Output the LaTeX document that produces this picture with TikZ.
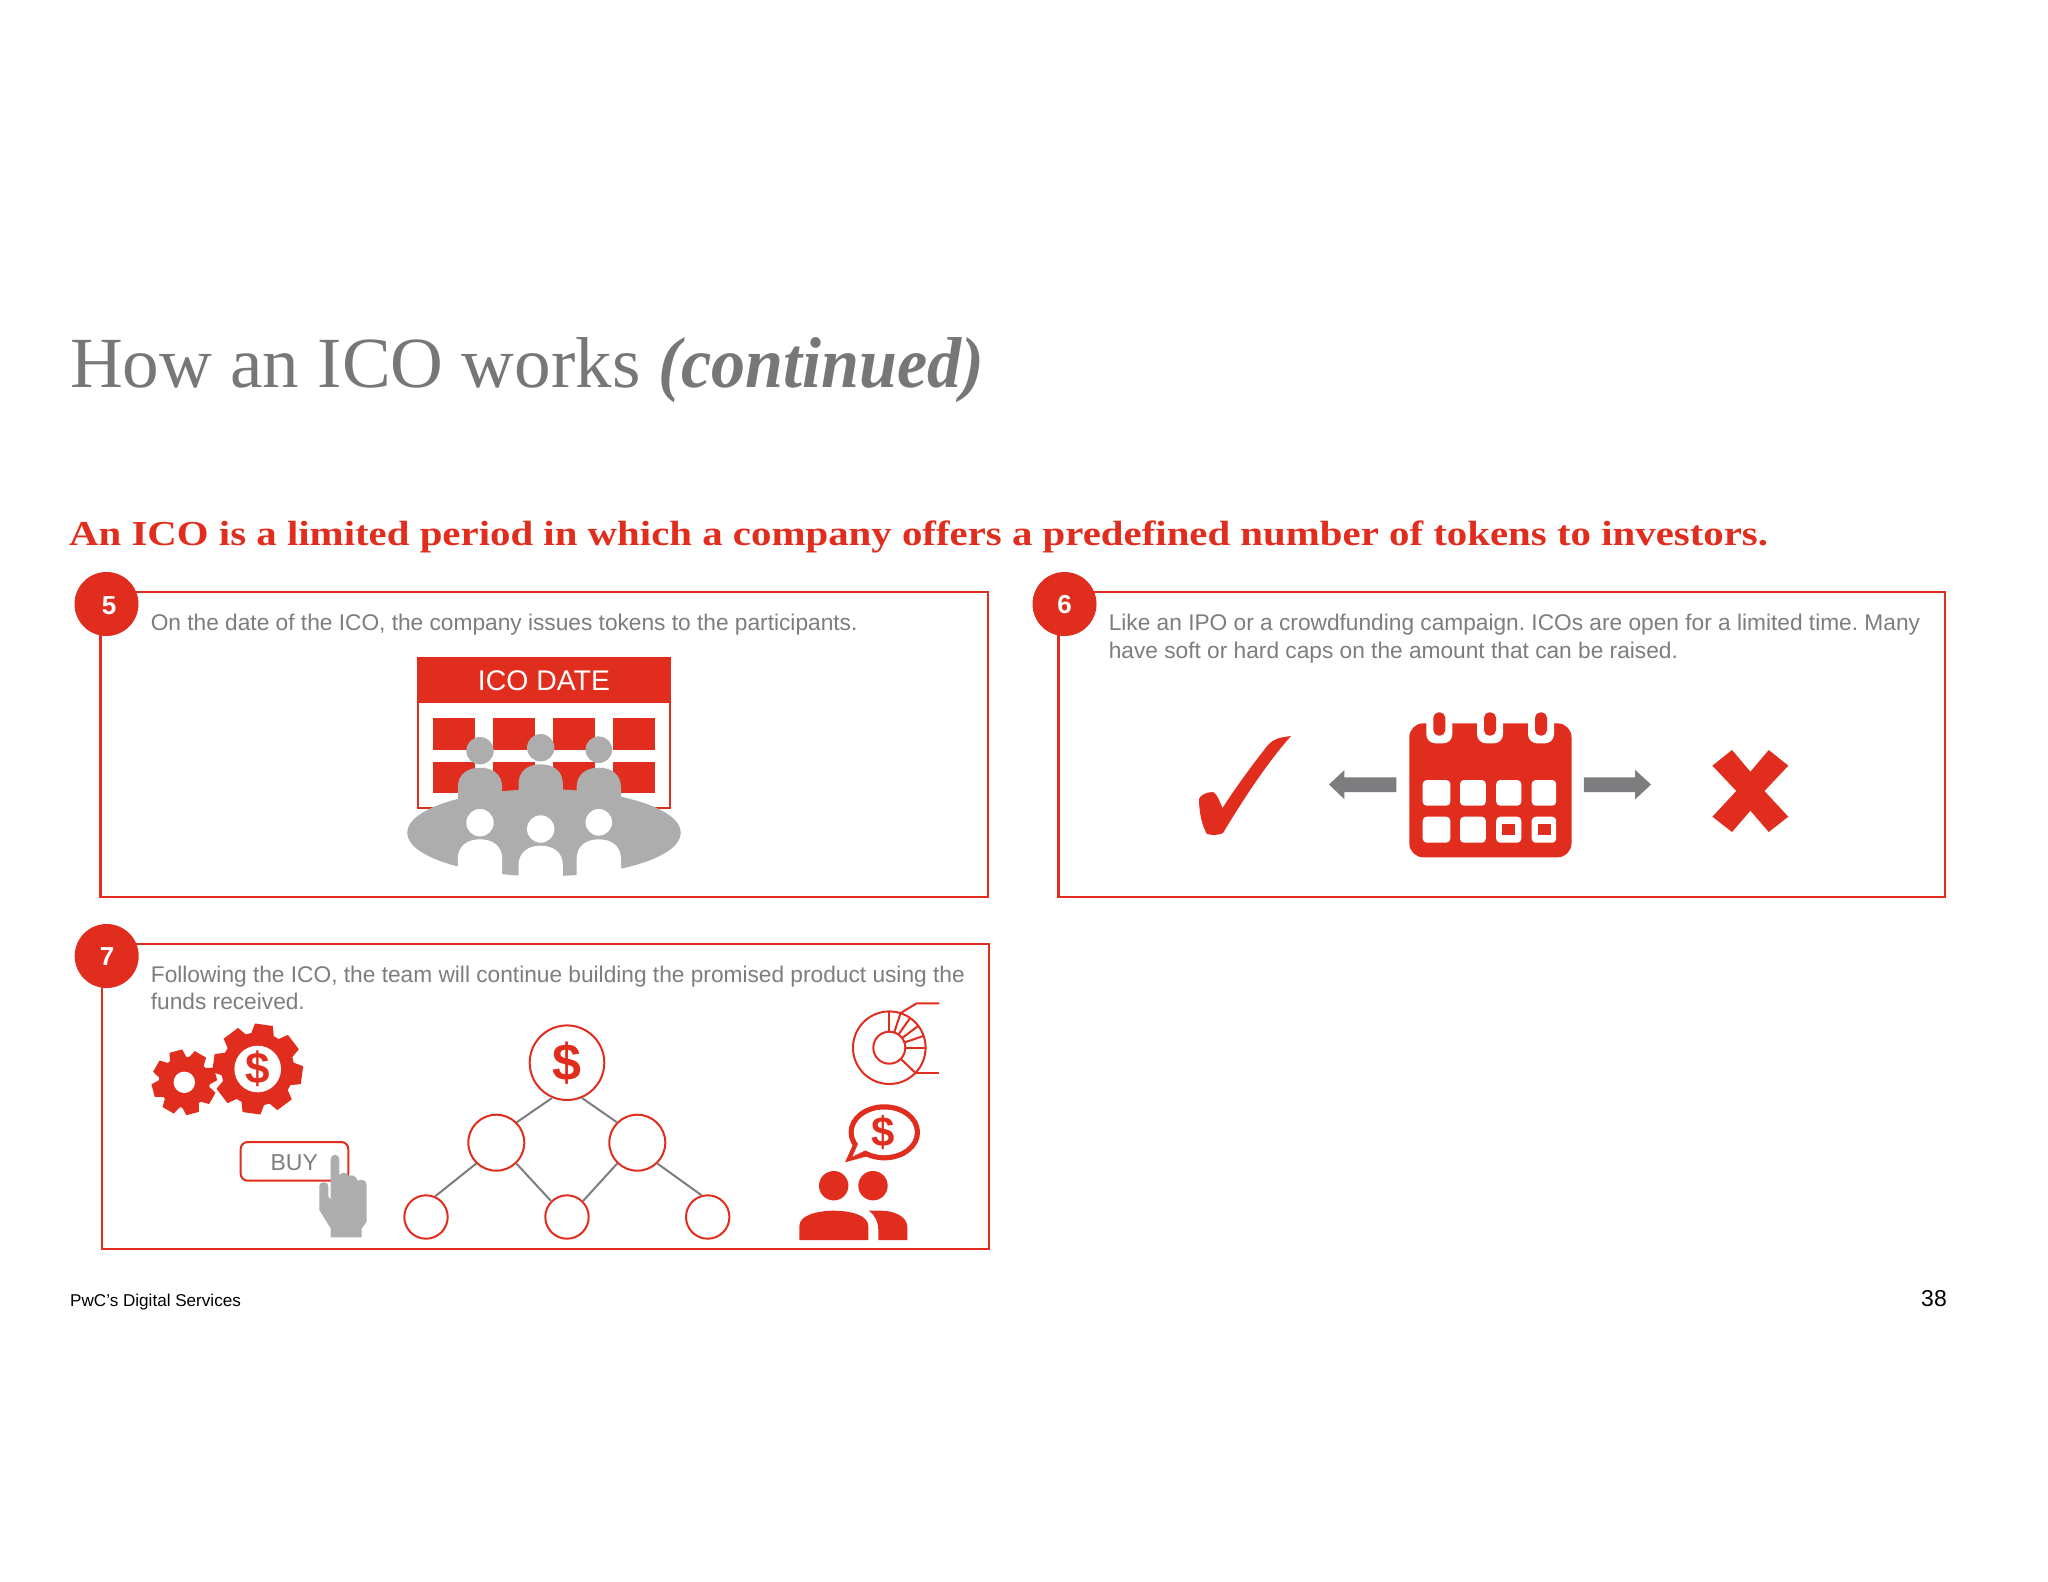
\documentclass[tikz,border=0pt]{standalone}
\usepackage{fontspec}
\setmainfont{Liberation Sans}
\newfontfamily\titlefont[FakeStretch=1.015,BoldItalicFeatures={FakeStretch=0.946}]{Liberation Serif}
\newfontfamily\subtitlefont[FakeStretch=1.167]{Liberation Serif}
\definecolor{pwcred}{HTML}{E12D1E}
\definecolor{pwcgrey}{HTML}{7D7D80}
\definecolor{lightgrey}{HTML}{ADADAD}
\tikzset{
  x=1pt,y=-1pt,
  panel/.style={draw=pwcred,line width=2.2pt,fill=white},
  badge/.style={circle,fill=pwcred,minimum size=64pt,inner sep=0pt},
  badgenum/.style={text=white,font=\fontsize{26}{26}\selectfont\bfseries,inner sep=0pt},
  body/.style={text=pwcgrey,font=\fontsize{22.7}{27.2}\selectfont\frenchspacing,align=left,inner sep=0pt,anchor=north west},
  treenode/.style={circle,draw=pwcred,line width=2pt,fill=white,inner sep=0pt},
  treeedge/.style={draw=pwcgrey,line width=2pt},
  thinred/.style={draw=pwcred,line width=2pt},
  dollar/.style={text=pwcred,inner sep=0pt,font=\fontsize{#1}{#1}\selectfont\bfseries},
  redfill/.style={fill=pwcred},
  greyfill/.style={fill=lightgrey}
}
\begin{document}
\begin{tikzpicture}
\useasboundingbox (0,0) rectangle (2048,1582);
\fill[white] (0,0) rectangle (2048,1582);
% titles
\node[anchor=base west,inner sep=0pt,text=pwcgrey!95!black,font=\titlefont\fontsize{72}{72}\selectfont] (title) at (70,387) {How an ICO works \textbf{\textit{(continued)}}};
\node[anchor=base west,inner sep=0pt,text=pwcred,font=\subtitlefont\fontsize{35}{35}\selectfont\bfseries] (subtitle) at (69,545) {An ICO is a limited period in which a company offers a predefined number of tokens to investors.};
% panels
\draw[panel] (100.4,592.3) rectangle (987.7,897.3);
\draw[panel] (1058.4,592.3) rectangle (1945,897.3);
\draw[panel] (102.3,944.3) rectangle (989.3,1249);
\node[badge] (b5) at (106.5,604) {};
\node[badge] (b6) at (1064.5,604) {};
\node[badge] (b7) at (106.7,956) {};
\node[badgenum] (n5) at (109,606) {5};
\node[badgenum] (n6) at (1064.5,604.5) {6};
\node[badgenum] (n7) at (107,956.5) {7};
\node[body] (t5) at (150.6,614.3) {On the date of the ICO, the company issues tokens to the participants.};
\node[body] (t6) at (1108.6,614.3) {Like an IPO or a crowdfunding campaign. ICOs are open for a limited time. Many\\have soft or hard caps on the amount that can be raised.};
\node[body] (t7) at (150.7,965.5) {Following the ICO, the team will continue building the promised product using the\\funds received.};
% ICO date calendar
\draw[draw=pwcred,line width=2pt,fill=white] (418.3,658.3) rectangle (670,808.3);
\fill[redfill] (418.3,658.3) rectangle (670,702.7);
\node[text=white,inner sep=0pt,anchor=base,font=\fontsize{28.4}{28.4}\selectfont] (icodate) at (544,690.7) {ICO DATE};
\foreach \xa in {433.3,493.3,553.3,613.3}{
  \fill[redfill] (\xa,718.3) rectangle +(41.7,31.7);
  \fill[redfill] (\xa,761.7) rectangle +(41.7,31.7);
}
% crowd
\fill[greyfill] (544,832.7) ellipse [x radius=136.8,y radius=43.5];
\foreach \cx/\hy/\r/\dy in {480/750.7/13.7/767.7,540.7/747.7/13.7/764.3,598.8/749.7/13.3/767.7}{
  \fill[greyfill] (\cx,\hy) circle[radius=\r];
  \fill[greyfill] (\cx-22.2,800) -- (\cx-22.2,\dy+20) .. controls (\cx-22.2,\dy+6) and (\cx-12,\dy) .. (\cx,\dy) .. controls (\cx+12,\dy) and (\cx+22.2,\dy+6) .. (\cx+22.2,\dy+20) -- (\cx+22.2,800) -- cycle;
}
\foreach \cx/\hy/\r/\dy in {480/822.7/13.7/839.3,540.7/829/13.7/845.7,598.8/822.3/13.3/839.3}{
  \fill[white] (\cx,\hy) circle[radius=\r];
  \fill[white] (\cx-22.2,884) -- (\cx-22.2,\dy+20) .. controls (\cx-22.2,\dy+6) and (\cx-12,\dy) .. (\cx,\dy) .. controls (\cx+12,\dy) and (\cx+22.2,\dy+6) .. (\cx+22.2,\dy+20) -- (\cx+22.2,884) -- cycle;
}
% check mark
\fill[redfill] (1291,736) .. controls (1283,737) and (1274,738) .. (1268,745) .. controls (1252,765) and (1234,790) .. (1222.5,808) .. controls (1219,800) and (1217,794) .. (1213,792) .. controls (1207,792) and (1200,795) .. (1199,799) .. controls (1199,812) and (1202,826) .. (1207,834) .. controls (1212,835.5) and (1220,835) .. (1223,833) .. controls (1238,808) and (1265,765) .. cycle;
% calendar
\fill[redfill,rounded corners=14pt] (1409.3,723.3) rectangle (1571.5,857.3);
\foreach \cx in {1439.3,1490,1541}{
  \fill[white,rounded corners=9pt] (\cx-13,715) rectangle (\cx+13,743.3);
  \fill[redfill,rounded corners=5.5pt] (\cx-6,712.3) rectangle (\cx+6,735.7);
}
\foreach \xa/\xb in {1422.7/1450.3,1460/1485.8,1496.2/1521.3,1531.7/1556.2}{
  \fill[white,rounded corners=4pt] (\xa,780) rectangle (\xb,805.7);
  \fill[white,rounded corners=4pt] (\xa,816.7) rectangle (\xb,842.7);
}
\fill[redfill] (1502.3,824) rectangle (1514.6,835.3);
\fill[redfill] (1537.9,824) rectangle (1550.7,835.3);
% arrows
\fill[pwcgrey] (1329,784.5) -- (1344.4,770) -- (1344.4,777.3) -- (1396.4,777.3) -- (1396.4,792) -- (1344.4,792) -- (1344.4,799.3) -- cycle;
\fill[pwcgrey] (1651,784.5) -- (1635.2,770) -- (1635.2,777.3) -- (1583.8,777.3) -- (1583.8,792) -- (1635.2,792) -- (1635.2,799.3) -- cycle;
% cross
\fill[redfill] (1732,750) -- (1750.4,771.7) -- (1768.7,750) -- (1788.3,765.7) -- (1764.4,791) -- (1788.3,816.7) -- (1768.7,832) -- (1750.4,810.7) -- (1732,832) -- (1712.4,816.7) -- (1736.3,791) -- (1712.4,765.7) -- cycle;
% gears
\begin{scope}[shift={(184.3,1082.3)}]
  \fill[redfill] (0,0) circle[radius=25.5];
  \foreach \a in {15,60,...,330}{
    \fill[redfill,rotate=\a] (22,-9) -- (32.3,-6.5) -- (32.3,6.5) -- (22,9) -- cycle;
  }
  \fill[white] (0,0) circle[radius=10.7];
\end{scope}
\begin{scope}[shift={(257.7,1069)}]
  \fill[redfill] (0,0) circle[radius=36.5];
  \foreach \a in {37,82,...,352}{
    \fill[redfill,rotate=\a] (32,-12) -- (44.7,-9) -- (44.7,9) -- (32,12) -- cycle;
  }
  \fill[white] (0,0) circle[radius=23.3];
\end{scope}
\node[dollar=44] (gd) at (257.7,1069) {\$};
% buy button
\draw[draw=pwcred,line width=2pt,fill=white,rounded corners=7pt] (240.7,1142) rectangle (348.3,1180.7);
\node[text=pwcgrey,inner sep=0pt,anchor=base,font=\fontsize{23}{23}\selectfont] (buy) at (294.3,1170) {BUY};
% hand
\fill[greyfill] (330.7,1159) .. controls (330.7,1153.5) and (339.3,1153.5) .. (339.3,1159) -- (339.3,1175) .. controls (342,1172) and (347,1172) .. (348.8,1176) .. controls (351,1174.5) and (356,1175) .. (357.8,1181) .. controls (360,1178.5) and (366.7,1179.5) .. (366.7,1185) -- (366.7,1221.7) -- (361.7,1228.3) -- (361.7,1237.3) -- (330.7,1237.3) -- (330.7,1228.3) -- (319.3,1210) -- (319.3,1186) .. controls (319.3,1181) and (328.3,1181) .. (328.3,1186) -- (328.3,1196) -- (330.7,1200) -- cycle;
% tree
\node[treenode,minimum size=74.6pt] (root) at (567,1062.7) {};
\node[treenode,minimum size=56pt] (ml) at (496.3,1142.7) {};
\node[treenode,minimum size=56pt] (mr) at (637.3,1142.7) {};
\node[treenode,minimum size=43.4pt] (l1) at (426,1217) {};
\node[treenode,minimum size=43.4pt] (l2) at (567,1217) {};
\node[treenode,minimum size=43.4pt] (l3) at (707.7,1217) {};
\draw[treeedge] (root.247) -- (ml.45);
\draw[treeedge] (root.293) -- (mr.135);
\draw[treeedge] (ml.226) -- (l1.66);
\draw[treeedge] (ml.314) -- (l2.135);
\draw[treeedge] (mr.226) -- (l2.45);
\draw[treeedge] (mr.314) -- (l3.106);
\node[dollar=52] (rd) at (567,1062.7) {\$};
% donut
\coordinate (dc) at (889.3,1047.7);
\draw[thinred] (dc) circle[radius=36.3];
\draw[thinred] (dc) circle[radius=16];
\foreach \a in {90,72,55,37,19,0,-44}{
  \draw[thinred] (dc) ++(-\a:16) -- ++(-\a:20.3);
}
\draw[thinred] (900.7,1013) -- (916.7,1003.3) -- (939.3,1003.3);
\draw[thinred] (915.7,1073.3) -- (939.3,1073.3);
% speech bubble
\fill[redfill] (845,1162.3) -- (856,1138) -- (872,1155) -- cycle;
\draw[draw=pwcred,line width=5.5pt] (884.3,1132.3) ellipse [x radius=33,y radius=25.3];
\fill[white] (884.3,1132.3) ellipse [x radius=30.5,y radius=22.8];
\fill[white] (858.5,1143) -- (852.5,1156.5) -- (868,1149) -- cycle;
\node[dollar=42] (sd) at (883.3,1132.3) {\$};
% people
\fill[redfill] (833.7,1185.7) circle[radius=14.7];
\fill[redfill] (873,1185.7) circle[radius=14.7];
\fill[redfill] (799.3,1240) -- (799.3,1226) .. controls (799.3,1215) and (818,1210.7) .. (833.8,1210.7) .. controls (850,1210.7) and (868.3,1215) .. (868.3,1226) -- (868.3,1240) -- cycle;
\fill[redfill] (869,1210.7) .. controls (875,1215) and (878.3,1222) .. (878.3,1230) -- (878.3,1240) -- (907.3,1240) -- (907.3,1227) .. controls (907.3,1216) and (893,1210.7) .. (881.7,1210.7) -- cycle;
% footer
\node[anchor=base west,inner sep=0pt,text=black,font=\fontsize{17.1}{17.1}\selectfont] (foot) at (70,1306.7) {PwC’s Digital Services};
\node[anchor=base east,inner sep=0pt,text=black,font=\fontsize{23}{23}\selectfont] (page) at (1947,1306.7) {38};
\end{tikzpicture}
\end{document}
